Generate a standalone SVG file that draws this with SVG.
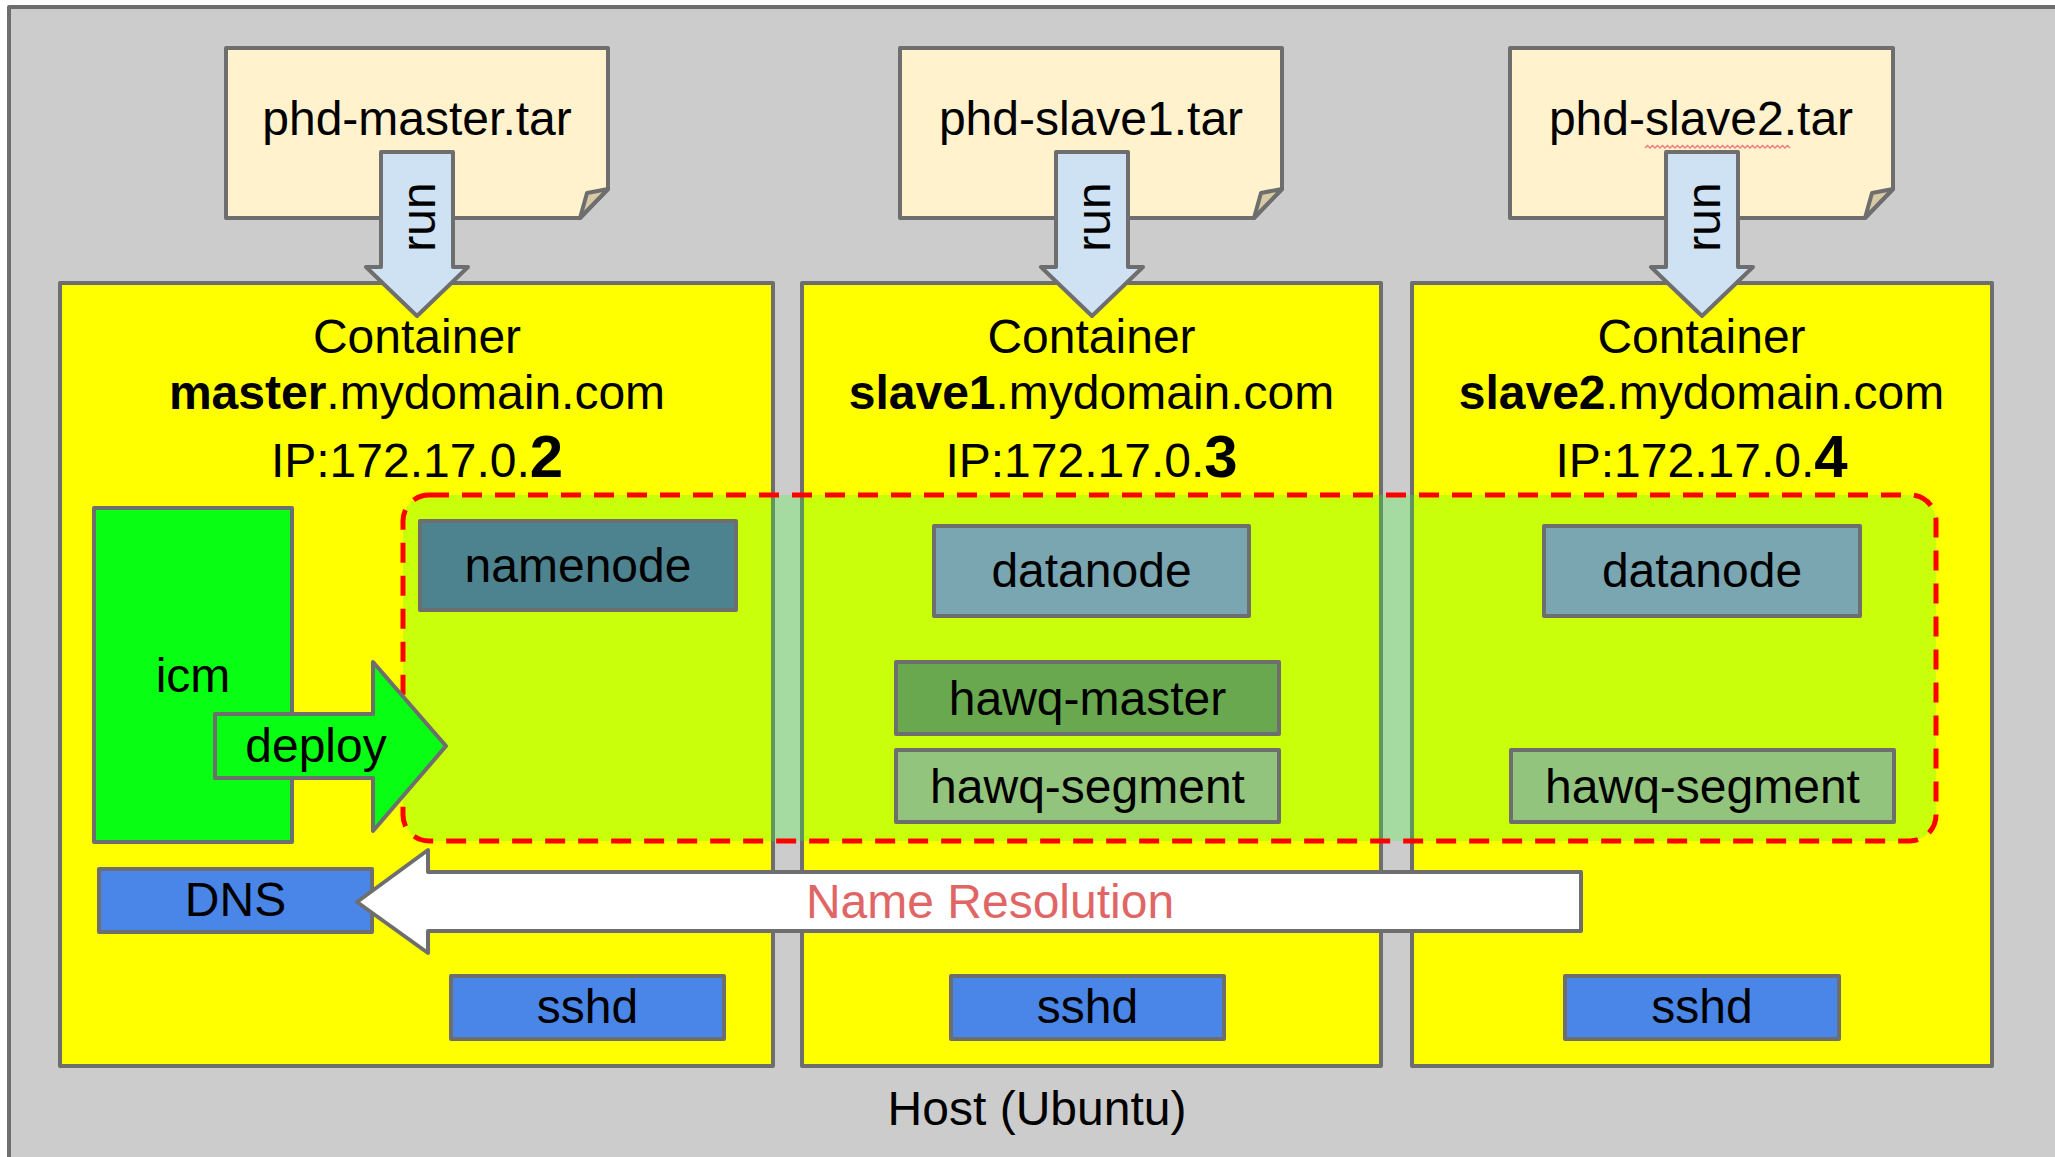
<svg xmlns="http://www.w3.org/2000/svg" width="2055" height="1157" viewBox="0 0 2055 1157">
<style>
.b{stroke:#6e6e6e;stroke-width:4;stroke-linejoin:round}
.t{font-family:"Liberation Sans",Arial,sans-serif;font-size:48px;fill:#000;text-anchor:middle}
.tar{fill:#fff2cc}
.flap{fill:#d8caa4}
.cont{fill:#ffff00}
.blue{fill:#4a86e8}
.run{fill:#cfe2f3}
.grn{fill:#08ff14}
</style>
<g id="host">
<rect class="b" x="9" y="7" width="2100" height="1200" fill="#cccccc"/>
<text class="t" x="1037" y="1125">Host (Ubuntu)</text>
</g>
<g id="tar-master">
<path class="b tar" d="M226,48 H608 V189 L580,218 H226 Z"/>
<path class="b flap" d="M580,218 L587,193 L608,189 Z"/>
<text class="t" x="417" y="135">phd-master.tar</text>
</g>
<g id="tar-slave1">
<path class="b tar" d="M900,48 H1282 V189 L1254,218 H900 Z"/>
<path class="b flap" d="M1254,218 L1261,193 L1282,189 Z"/>
<text class="t" x="1091" y="135">phd-slave1.tar</text>
</g>
<g id="tar-slave2">
<path class="b tar" d="M1510,48 H1893 V189 L1865,218 H1510 Z"/>
<path class="b flap" d="M1865,218 L1872,193 L1893,189 Z"/>
<text class="t" x="1701" y="135">phd-slave2.tar</text>
<path d="M1645,148 l2.5,-2.5 l2.5,2.5 l2.5,-2.5 l2.5,2.5 l2.5,-2.5 l2.5,2.5 l2.5,-2.5 l2.5,2.5 l2.5,-2.5 l2.5,2.5 l2.5,-2.5 l2.5,2.5 l2.5,-2.5 l2.5,2.5 l2.5,-2.5 l2.5,2.5 l2.5,-2.5 l2.5,2.5 l2.5,-2.5 l2.5,2.5 l2.5,-2.5 l2.5,2.5 l2.5,-2.5 l2.5,2.5 l2.5,-2.5 l2.5,2.5 l2.5,-2.5 l2.5,2.5 l2.5,-2.5 l2.5,2.5 l2.5,-2.5 l2.5,2.5 l2.5,-2.5 l2.5,2.5 l2.5,-2.5 l2.5,2.5 l2.5,-2.5 l2.5,2.5 l2.5,-2.5 l2.5,2.5 l2.5,-2.5 l2.5,2.5 l2.5,-2.5 l2.5,2.5 l2.5,-2.5 l2.5,2.5 l2.5,-2.5 l2.5,2.5 l2.5,-2.5 l2.5,2.5 l2.5,-2.5 l2.5,2.5 l2.5,-2.5 l2.5,2.5 l2.5,-2.5 l2.5,2.5 l2.5,-2.5 l2.5,2.5" fill="none" stroke="#ee8080" stroke-width="1.5"/>
</g>
<g id="container-master">
<rect class="b cont" x="60" y="283" width="713" height="783"/>
<text class="t" x="417" y="353">Container</text>
<text class="t" x="417" y="409"><tspan font-weight="bold">master</tspan>.mydomain.com</text>
<text class="t" x="417" y="477">IP:172.17.0.<tspan font-weight="bold" font-size="60">2</tspan></text>
</g>
<g id="container-slave1">
<rect class="b cont" x="802" y="283" width="579" height="783"/>
<text class="t" x="1091.5" y="353">Container</text>
<text class="t" x="1091.5" y="409"><tspan font-weight="bold">slave1</tspan>.mydomain.com</text>
<text class="t" x="1091.5" y="477">IP:172.17.0.<tspan font-weight="bold" font-size="60">3</tspan></text>
</g>
<g id="container-slave2">
<rect class="b cont" x="1412" y="283" width="580" height="783"/>
<text class="t" x="1701.5" y="353">Container</text>
<text class="t" x="1701.5" y="409"><tspan font-weight="bold">slave2</tspan>.mydomain.com</text>
<text class="t" x="1701.5" y="477">IP:172.17.0.<tspan font-weight="bold" font-size="60">4</tspan></text>
</g>
<g id="icm">
<rect class="b grn" x="94" y="508" width="198" height="334"/>
<text class="t" x="193" y="692">icm</text>
</g>
<g id="cluster">
<rect x="403" y="495" width="1533" height="346" rx="26" fill="#3cff28" fill-opacity="0.27" stroke="#ff0000" stroke-width="5" stroke-dasharray="20 13"/>
</g>
<g id="namenode">
<rect class="b" x="420" y="521" width="316" height="89" fill="#4d838f"/>
<text class="t" x="578" y="582">namenode</text>
</g>
<g id="datanode-slave1">
<rect class="b" x="934" y="526" width="315" height="90" fill="#79a6b1"/>
<text class="t" x="1091.5" y="587">datanode</text>
</g>
<g id="hawq-master">
<rect class="b" x="896" y="662" width="383" height="72" fill="#6aa84f"/>
<text class="t" x="1087.5" y="715">hawq-master</text>
</g>
<g id="hawq-segment-slave1">
<rect class="b" x="896" y="750" width="383" height="72" fill="#93c47d"/>
<text class="t" x="1087.5" y="803">hawq-segment</text>
</g>
<g id="datanode-slave2">
<rect class="b" x="1544" y="526" width="316" height="90" fill="#79a6b1"/>
<text class="t" x="1702" y="587">datanode</text>
</g>
<g id="hawq-segment-slave2">
<rect class="b" x="1511" y="750" width="383" height="72" fill="#93c47d"/>
<text class="t" x="1702.5" y="803">hawq-segment</text>
</g>
<g id="dns">
<rect class="b blue" x="99" y="869" width="273" height="63"/>
<text class="t" x="235.5" y="916">DNS</text>
</g>
<g id="sshd-master">
<rect class="b blue" x="451" y="976" width="273" height="63"/>
<text class="t" x="587.5" y="1023">sshd</text>
</g>
<g id="sshd-slave1">
<rect class="b blue" x="951" y="976" width="273" height="63"/>
<text class="t" x="1087.5" y="1023">sshd</text>
</g>
<g id="sshd-slave2">
<rect class="b blue" x="1565" y="976" width="274" height="63"/>
<text class="t" x="1702" y="1023">sshd</text>
</g>
<g id="connectors">
<g id="run-master">
<path class="b run" d="M381,152 H453 V267 H468 L417,316 L366,267 H381 Z"/>
<text class="t" font-size="46" transform="translate(435,217) rotate(-90)">run</text>
</g>
<g id="run-slave1">
<path class="b run" d="M1056,152 H1128 V267 H1143 L1092,316 L1041,267 H1056 Z"/>
<text class="t" font-size="46" transform="translate(1110,217) rotate(-90)">run</text>
</g>
<g id="run-slave2">
<path class="b run" d="M1666,152 H1738 V267 H1753 L1702,316 L1651,267 H1666 Z"/>
<text class="t" font-size="46" transform="translate(1720,217) rotate(-90)">run</text>
</g>
<g id="deploy">
<path class="b grn" d="M215,714 H373 V662 L446,746 L373,831 V778 H215 Z"/>
<text class="t" x="316" y="762">deploy</text>
</g>
<g id="name-resolution">
<path class="b" fill="#ffffff" d="M1581,872 V931 H428 V953 L357,902 L428,850 V872 Z"/>
<text class="t" x="990" y="918" style="fill:#e06666">Name Resolution</text>
</g>
</g>
</svg>
